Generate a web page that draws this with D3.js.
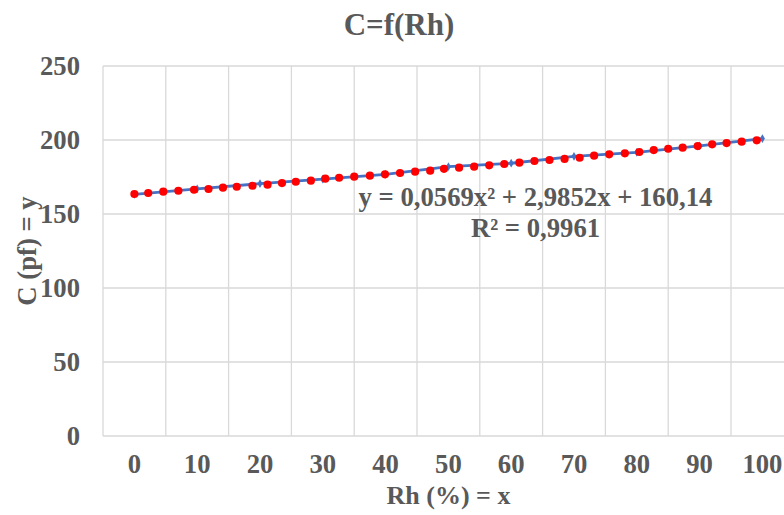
<!DOCTYPE html>
<html>
<head>
<meta charset="utf-8">
<script src="https://cdn.jsdelivr.net/npm/d3@7"></script>
<style>
  html, body { margin: 0; padding: 0; background: #fff; }
  svg { display: block; }
  text { font-family: "Liberation Serif", "Times New Roman", serif; font-weight: bold; fill: #595959; }
</style>
</head>
<body>
<svg id="chart" width="784" height="515"></svg>
<script>
// ---- data ----
const categories = ["0","10","20","30","40","50","60","70","80","90","100"];
const yTicks = [0, 50, 100, 150, 200, 250];

// measured series (blue line with markers)
const blueX = [0, 10, 20, 30, 40, 50, 60, 70, 80, 90, 100];
const blueY = [163.2, 167.0, 170.5, 173.5, 176.8, 182.0, 184.3, 189.0, 191.7, 196.0, 201.0];

// red points
const redX = [0, 2.2, 4.6, 7.0, 9.5, 11.8, 14.1, 16.3, 18.8, 21.2, 23.5, 25.7, 28.1, 30.4, 32.6,
  35.0, 37.5, 39.9, 42.3, 44.7, 47.1, 49.3, 51.7, 54.1, 56.5, 58.9, 61.3, 63.7, 66.1, 68.5,
  70.9, 73.2, 75.6, 78.1, 80.4, 82.7, 85.0, 87.3, 89.7, 92.0, 94.3, 96.7, 99.1];
const redY = [163.5, 164.2, 165.1, 165.7, 166.4, 166.9, 167.8, 168.4, 169.1, 169.8, 170.9, 171.8, 172.5, 173.9, 174.5,
  175.2, 175.9, 176.8, 177.7, 178.6, 179.3, 180.5, 181.3, 182.0, 182.9, 183.8, 184.7, 185.8, 186.5, 187.2,
  188.0, 189.4, 190.3, 191.0, 191.9, 193.2, 194.1, 194.8, 195.9, 197.1, 197.9, 198.9, 199.8];

const titleText = "C=f(Rh)";
const xTitle = "Rh (%) = x";
const yTitle = "C (pf) = y";
const eqLine1 = "y = 0,0569x² + 2,9852x + 160,14";
const eqLine2 = "R² = 0,9961";

// ---- layout ----
const svg = d3.select("#chart");
const plotLeft = 103, plotTop = 66, plotBottom = 436, bandW = 62.8;
const gridColor = "#d9d9d9";

const xBand = d3.scaleBand().domain(categories).range([plotLeft, plotLeft + bandW * categories.length]).padding(0);
const bw = xBand.bandwidth();
const x = d3.scaleLinear().domain([0, 100])
  .range([xBand("0") + bw / 2, xBand("100") + bw / 2]);
const y = d3.scaleLinear().domain([0, 250]).range([plotBottom, plotTop]);
const plotRight = xBand.range()[1];

// horizontal gridlines
svg.append("g").selectAll("line").data(yTicks).join("line")
  .attr("x1", plotLeft).attr("x2", plotRight)
  .attr("y1", d => y(d)).attr("y2", d => y(d))
  .attr("stroke", gridColor).attr("stroke-width", 1.3);

// vertical gridlines at category boundaries
const vEdges = categories.map(c => xBand(c)).concat([plotRight]);
svg.append("g").selectAll("line").data(vEdges).join("line")
  .attr("x1", d => d).attr("x2", d => d)
  .attr("y1", plotTop).attr("y2", plotBottom)
  .attr("stroke", gridColor).attr("stroke-width", 1.3);

// axes
const yAxis = svg.append("g").attr("transform", `translate(${plotLeft},0)`)
  .call(d3.axisLeft(y).tickValues(yTicks).tickSize(0).tickPadding(23));
yAxis.select(".domain").remove();
yAxis.selectAll("text").style("font-size", "26.7px").style("fill", "#595959")
  .style("font-family", "'Liberation Serif', serif").style("font-weight", "bold");

const xAxis = svg.append("g").attr("transform", `translate(0,${plotBottom})`)
  .call(d3.axisBottom(xBand).tickSize(0).tickPadding(18));
xAxis.select(".domain").remove();
xAxis.selectAll("text").style("font-size", "26.7px").style("fill", "#595959")
  .style("font-family", "'Liberation Serif', serif").style("font-weight", "bold");

// blue series
const blueData = blueX.map((v, i) => [v, blueY[i]]);
svg.append("path").datum(blueData)
  .attr("fill", "none").attr("stroke", "#4472C4").attr("stroke-width", 2.8)
  .attr("d", d3.line().x(d => x(d[0])).y(d => y(d[1])));
svg.append("g").selectAll("path").data(blueData).join("path")
  .attr("transform", d => `translate(${x(d[0])},${y(d[1])})`)
  .attr("d", d3.symbol(d3.symbolDiamond, 22))
  .attr("fill", "#4472C4");

// red series
const redData = redX.map((v, i) => [v, redY[i]]);
svg.append("g").selectAll("circle").data(redData).join("circle")
  .attr("cx", d => x(d[0])).attr("cy", d => y(d[1]))
  .attr("r", 4.1).attr("fill", "#FF0000");

// titles
svg.append("text").attr("x", 399).attr("y", 35).attr("text-anchor", "middle")
  .style("font-size", "31px").text(titleText);
svg.append("text").attr("x", 448.5).attr("y", 504).attr("text-anchor", "middle")
  .style("font-size", "26px").text(xTitle);
svg.append("text").attr("transform", "translate(36,251) rotate(-90)").attr("text-anchor", "middle")
  .style("font-size", "26.7px").text(yTitle);

// trendline equation
svg.append("text").attr("x", 535.5).attr("y", 206).attr("text-anchor", "middle")
  .style("font-size", "26.7px").text(eqLine1);
svg.append("text").attr("x", 535.5).attr("y", 237).attr("text-anchor", "middle")
  .style("font-size", "26.7px").text(eqLine2);
</script>
</body>
</html>
